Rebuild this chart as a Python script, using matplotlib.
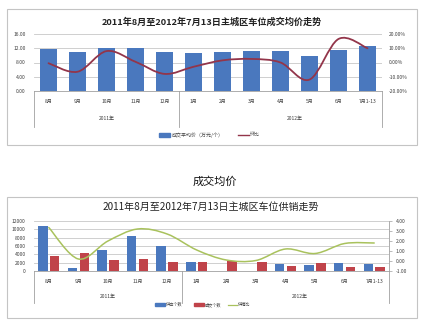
import matplotlib
matplotlib.use("Agg")
import matplotlib.pyplot as plt
from matplotlib.path import Path
from matplotlib.patches import PathPatch, Rectangle
import numpy as np

plt.rcParams['font.family'] = ['Noto Sans CJK SC', 'DejaVu Sans']

# 数据
months = ['8月', '9月', '10月', '11月', '12月', '1月', '2月', '3月', '4月', '5月', '6月', '7月1-13']
years = ['2011年', '2012年']
avg_price = [11.9, 11.05, 12.1, 12.2, 11.0, 10.8, 11.0, 11.3, 11.3, 9.8, 11.5, 12.7]   # 万元/个
mom_pct = [-0.5, -6.5, 8.0, 0.5, -8.0, -3.0, 1.5, 2.5, 0.0, -12.0, 16.5, 10.0]          # %
supply = [10700, 650, 4950, 8400, 6000, 2250, 0, 0, 1600, 1350, 2000, 1600]
sold = [3500, 4300, 2700, 2800, 2250, 2250, 2400, 2200, 1100, 1900, 1050, 950]
ratio = [3.35, 0.2, 2.0, 3.2, 2.7, 1.1, 0.1, 0.05, 1.2, 0.75, 1.75, 1.8]

BLUE = '#4a78be'
RED = '#c0434a'
LINE_RED = '#93354a'
GREEN = '#a9c25d'
GRID = '#c8c8c8'
TXT = '#404040'
SMALL = 3.6
LEG = 3.0

W, H = 429, 334
fig = plt.figure(figsize=(W / 100, H / 100), dpi=100)
fig.patch.set_facecolor('white')


def box(l, t, r, b):
    return [l / W, 1 - b / H, (r - l) / W, (b - t) / H]


def smooth_line(ax, xs, ys, color, lw):
    # 平滑曲线（Catmull-Rom 转三次贝塞尔）
    pts = np.column_stack([xs, ys]).astype(float)
    n = len(pts)
    verts = [pts[0]]
    codes = [Path.MOVETO]
    for i in range(n - 1):
        p0 = pts[max(i - 1, 0)]
        p1 = pts[i]
        p2 = pts[i + 1]
        p3 = pts[min(i + 2, n - 1)]
        verts += [p1 + (p2 - p0) / 6, p2 - (p3 - p1) / 6, p2]
        codes += [Path.CURVE4] * 3
    ax.add_patch(PathPatch(Path(verts, codes), fill=False, edgecolor=color,
                           lw=lw, capstyle='round', zorder=5))


def frame(l, t, r, b):
    fig.patches.append(Rectangle((l / W, 1 - b / H), (r - l) / W, (b - t) / H,
                                 transform=fig.transFigure, fill=False,
                                 edgecolor='#c4c4c4', lw=0.8))


def category_axis(ax, drop, ypos_years, xyear):
    x = np.arange(len(months))
    ax.set_xlim(-0.5, len(months) - 0.5)
    ax.set_xticks(x)
    ax.set_xticklabels(months, fontsize=SMALL, color=TXT)
    ax.tick_params(axis='x', length=0, pad=6)
    tr = ax.get_xaxis_transform()
    for xv in (-0.5, 4.5, len(months) - 0.5):
        ax.plot([xv, xv], [0, -drop], transform=tr, color='#a0a0a0', lw=0.6,
                clip_on=False)
    for xv, name in zip(xyear, years):
        ax.text(xv, ypos_years, name, transform=tr, ha='center', va='center',
                fontsize=SMALL, color=TXT)


x = np.arange(len(months))

# ---------- 成交均价 ----------
frame(7, 9, 417, 145)
fig.text(212 / W, 1 - 22 / H, '2011年8月至2012年7月13日主城区车位成交均价走势',
         ha='center', va='center', fontsize=6.6, fontweight='bold', color='#222222')

ax1 = fig.add_axes(box(34, 34, 382, 91))
ax1.bar(x, avg_price, width=0.58, color=BLUE, zorder=3, label='成交平均价（万元/个）')
ax1.set_ylim(0, 16)
ax1.set_yticks([0, 4, 8, 12, 16])
ax1.set_yticklabels(['%.2f' % v for v in [0, 4, 8, 12, 16]], fontsize=SMALL, color=TXT)
ax1.tick_params(axis='y', length=0, pad=6)
ax1.grid(axis='y', color=GRID, lw=0.6, zorder=0)
for s in ('top', 'right', 'left'):
    ax1.spines[s].set_visible(False)
ax1.spines['bottom'].set_color('#a0a0a0')
ax1.spines['bottom'].set_linewidth(0.6)
category_axis(ax1, 36 / 57, -27 / 57, [2.0, 8.5])

ax1r = ax1.twinx()
ax1r.set_ylim(-20, 20)
ax1r.set_yticks([-20, -10, 0, 10, 20])
ax1r.set_yticklabels(['%.2f%%' % v for v in [-20, -10, 0, 10, 20]], fontsize=SMALL, color=TXT)
ax1r.tick_params(axis='y', length=0, pad=5)
for s in ax1r.spines.values():
    s.set_visible(False)
smooth_line(ax1r, x, mom_pct, LINE_RED, 1.3)

# 图例
fig.patches.append(Rectangle((159 / W, 1 - 137 / H), 11 / W, 4 / H,
                             transform=fig.transFigure, color=BLUE))
fig.text(172 / W, 1 - 135 / H, '成交平均价（万元/个）', ha='left', va='center',
         fontsize=SMALL, color=TXT)
fig.lines.append(plt.Line2D([238 / W, 249 / W], [1 - 135 / H, 1 - 135 / H],
                            transform=fig.transFigure, color=LINE_RED, lw=1.0))
fig.text(250 / W, 1 - 135 / H, '环比', ha='left', va='center', fontsize=SMALL, color=TXT)

fig.text(215 / W, 1 - 182 / H, '成交均价', ha='center', va='center', fontsize=8, color='#111111')

# ---------- 供销走势 ----------
frame(7, 197, 417, 318)
fig.text(211 / W, 1 - 207 / H, '2011年8月至2012年7月13日主城区车位供销走势',
         ha='center', va='center', fontsize=7.2, color='#222222')

ax2 = fig.add_axes(box(34, 221, 389, 271))
bw = 0.32
ax2.bar(x - 0.2, supply, width=bw, color=BLUE, zorder=3)
ax2.bar(x + 0.2, sold, width=bw, color=RED, zorder=3)
ax2.set_ylim(0, 12000)
ticks2 = list(range(0, 12001, 2000))
ax2.set_yticks(ticks2)
ax2.set_yticklabels([str(v) for v in ticks2], fontsize=SMALL, color=TXT)
ax2.tick_params(axis='y', length=0, pad=6)
ax2.grid(axis='y', color=GRID, lw=0.6, zorder=0)
for s in ('top', 'right', 'left'):
    ax2.spines[s].set_visible(False)
ax2.spines['bottom'].set_color('#a0a0a0')
ax2.spines['bottom'].set_linewidth(0.6)
category_axis(ax2, 32 / 50, -25 / 50, [2.0, 8.5])

ax2r = ax2.twinx()
ax2r.set_ylim(-1, 4)
ax2r.set_yticks([-1, 0, 1, 2, 3, 4])
ax2r.set_yticklabels(['%.2f' % v for v in [-1, 0, 1, 2, 3, 4]], fontsize=SMALL, color=TXT)
ax2r.tick_params(axis='y', length=2, width=0.5, color='#a0a0a0', pad=3)
for s in ('top', 'left', 'bottom'):
    ax2r.spines[s].set_visible(False)
ax2r.spines['right'].set_color('#a0a0a0')
ax2r.spines['right'].set_linewidth(0.6)
smooth_line(ax2r, x, ratio, GREEN, 1.1)

# 图例
fig.patches.append(Rectangle((155 / W, 1 - 306 / H), 10 / W, 3.5 / H,
                             transform=fig.transFigure, color=BLUE))
fig.text(166 / W, 1 - 304.5 / H, '供应个数', ha='left', va='center', fontsize=LEG, color=TXT)
fig.patches.append(Rectangle((194 / W, 1 - 306 / H), 10 / W, 3.5 / H,
                             transform=fig.transFigure, color=RED))
fig.text(205 / W, 1 - 304.5 / H, '成交个数', ha='left', va='center', fontsize=LEG, color=TXT)
fig.lines.append(plt.Line2D([228 / W, 237 / W], [1 - 304.5 / H, 1 - 304.5 / H],
                            transform=fig.transFigure, color=GREEN, lw=0.9))
fig.text(238 / W, 1 - 304.5 / H, '供销比', ha='left', va='center', fontsize=LEG, color=TXT)

fig.savefig('out.png', dpi=100)
